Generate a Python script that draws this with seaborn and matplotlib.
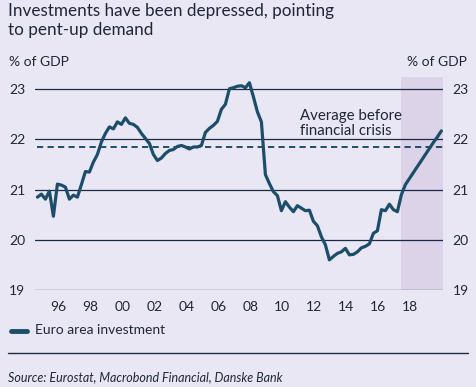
import numpy as np
import pandas as pd
import seaborn as sns
import matplotlib.pyplot as plt

# quarterly data, 1995Q1 - 2020Q2 (last quarters are forecasts)
start_year = 1995
investment = [20.85, 20.91, 20.81, 20.97, 20.47, 21.11, 21.09, 21.05, 20.81, 20.89,
              20.85, 21.10, 21.36, 21.35, 21.55, 21.70, 21.95, 22.12, 22.25, 22.21,
              22.35, 22.30, 22.43, 22.32, 22.30, 22.24, 22.12, 22.02, 21.92, 21.70,
              21.58, 21.63, 21.72, 21.78, 21.80, 21.86, 21.88, 21.85, 21.81, 21.85,
              21.85, 21.88, 22.14, 22.22, 22.28, 22.36, 22.60, 22.70, 23.01, 23.03,
              23.06, 23.07, 23.03, 23.13, 22.85, 22.55, 22.35, 21.30, 21.12, 20.96,
              20.88, 20.58, 20.76, 20.65, 20.56, 20.68, 20.63, 20.58, 20.59, 20.37,
              20.28, 20.06, 19.90, 19.60, 19.67, 19.73, 19.76, 19.83, 19.70, 19.71,
              19.76, 19.84, 19.87, 19.92, 20.13, 20.18, 20.60, 20.58, 20.71, 20.60,
              20.56, 20.90, 21.10, 21.22, 21.34, 21.46, 21.58, 21.70, 21.82, 21.94,
              22.05, 22.17]
avg_pre_crisis = 21.85
forecast_start = 2017.75
year_labels = ['96', '98', '00', '02', '04', '06', '08', '10', '12', '14', '16', '18']
y_ticks = [19, 20, 21, 22, 23]

df = pd.DataFrame({'year': start_year + 0.25 * np.arange(len(investment)),
                   'value': investment})

bg = '#E9E7F3'
navy = '#1B2A47'
teal = '#1C4E6B'
txt = '#1E2838'

sns.set_style('white')
plt.rcParams['font.family'] = ['Lato', 'DejaVu Sans']

fig = plt.figure(figsize=(4.76, 3.87), dpi=100, facecolor=bg)
ax = fig.add_axes([35 / 476, 1 - 290 / 387, (443 - 35) / 476, (290 - 76.7) / 387])
ax.set_facecolor(bg)

ax.axvspan(forecast_start, 2020.35, color='#DCD3E9', lw=0, zorder=0)
for v in y_ticks:
    ax.axhline(v, color=navy, lw=0.9, zorder=1)
ax.axhline(avg_pre_crisis, xmin=0.006, color=teal, lw=1.4, ls=(0, (3.2, 2.2)), zorder=2)

sns.lineplot(x='year', y='value', data=df, ax=ax, color=teal, lw=2.3,
             label='Euro area investment', zorder=3, legend=False)

ax.set_xlim(1994.85, 2020.35)
ax.set_ylim(19, 23.25)
ax.set_yticks(y_ticks)
ax.set_xticks([1996.3 + 2 * i for i in range(len(year_labels))])
ax.set_xticklabels(year_labels)
ax.tick_params(axis='both', length=0, labelsize=10, colors=txt)
ax.tick_params(axis='y', labelleft=True, labelright=True, pad=7)
ax.tick_params(axis='x', pad=8)
ax.set_xlabel('')
ax.set_ylabel('')
for s in ax.spines.values():
    s.set_visible(False)

ax.text(2011.4, 22.6, 'Average before\nfinancial crisis', fontsize=10.8, color=txt,
        va='top', ha='left', linespacing=1.1)

fig.text(8 / 476, 1 - 3 / 387, 'Investments have been depressed, pointing\nto pent-up demand',
         fontsize=12.3, color=txt, va='top', ha='left', linespacing=1.2)
fig.text(9 / 476, 1 - 62 / 387, '% of GDP', fontsize=10, color=txt, va='center', ha='left')
fig.text(467 / 476, 1 - 62 / 387, '% of GDP', fontsize=10, color=txt, va='center', ha='right')

# legend
fig.add_artist(plt.Line2D([11 / 476, 27 / 476], [1 - 331 / 387] * 2, color=teal, lw=3.5))
fig.text(35 / 476, 1 - 330 / 387, 'Euro area investment', fontsize=10, color=txt,
         va='center', ha='left')
fig.add_artist(plt.Line2D([8 / 476, 468 / 476], [1 - 353 / 387] * 2, color=navy, lw=1))
fig.text(8 / 476, 1 - 377 / 387, 'Source: Eurostat, Macrobond Financial, Danske Bank',
         fontsize=9, color=txt, style='italic', va='center', ha='left')

fig.savefig('out.png', dpi=100, facecolor=bg)
